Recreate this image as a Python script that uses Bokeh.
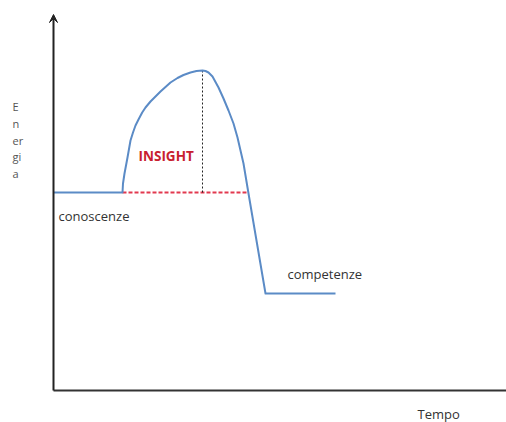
from bokeh.plotting import figure
from bokeh.models import Range1d, Arrow, VeeHead
from bokeh.core.properties import value
from bokeh.embed import file_html
from bokeh.resources import INLINE

# Energy curve (t = time, e = energy)
curve_t = [0, 69, 69.5, 71, 72.5, 74, 77, 79.5, 82, 85, 88.7, 92, 97, 102, 107, 112, 117, 124, 130,
           137, 143, 149, 152, 155, 159, 165, 170, 175, 180, 184, 187, 190, 192.5, 195, 212, 282]
curve_e = [198, 198, 207, 217, 225, 233, 250, 258, 265, 271, 278, 283, 289, 294, 299, 303.5, 308, 312.5, 315.5,
           318, 319.5, 320, 319.5, 318, 314, 303, 292, 280, 267, 253, 240, 227, 212, 197, 97, 97]

# insight baseline (red dashed) and peak marker (black dotted)
insight_t = [69, 195]
insight_e = [198, 198]
peak_t = [149, 149]
peak_e = [198, 320]

# axes extents
yaxis_top = 376
xaxis_end = 453

# labels
energia_letters = ["E", "n", "er", "gi", "a"]
energia_t = [-41, -41, -41, -41, -41]
energia_e = [284, 267, 250, 234, 217]

label_text = ["conoscenze", "competenze", "Tempo"]
label_t = [5, 234, 364]
label_e = [175, 117, -23]

insight_label = ["INSIGHT"]
insight_label_t = [85]
insight_label_e = [235]

p = figure(width=506, height=422, x_range=Range1d(-53, 453), y_range=Range1d(-32, 390),
           min_border=0, toolbar_location=None, output_backend="svg",
           x_axis_type=None, y_axis_type=None)
p.grid.visible = False
p.outline_line_color = None

# axes
p.line([0, xaxis_end], [0, 0], line_color="#333333", line_width=2)
p.add_layout(Arrow(end=VeeHead(size=8, fill_color="#222222", line_color="#222222"),
                   x_start=0, y_start=0, x_end=0, y_end=yaxis_top,
                   line_color="#222222", line_width=2))

# curves
p.line(insight_t, insight_e, line_color="#e2394f", line_width=2, line_dash="4 2")
p.line(peak_t, peak_e, line_color="#222222", line_width=1, line_dash="2 2")
p.line(curve_t, curve_e, line_color="#5b8bc6", line_width=2, line_join="round")

# texts
p.text(energia_t, energia_e, text=energia_letters, text_font=value("Open Sans"),
       text_font_size="11px", text_baseline="middle", text_align="left", text_color="#555555")
p.text(label_t, label_e, text=label_text, text_font=value("Open Sans"),
       text_font_size="13px", text_baseline="middle", text_align="left", text_color="#333333")
p.text(insight_label_t, insight_label_e, text=insight_label, text_font=value("Open Sans"),
       text_font_size="13.5px", text_font_style="bold", text_baseline="middle", text_align="left",
       text_color="#c8202f")

open("out.html", "w").write(file_html(p, INLINE))
